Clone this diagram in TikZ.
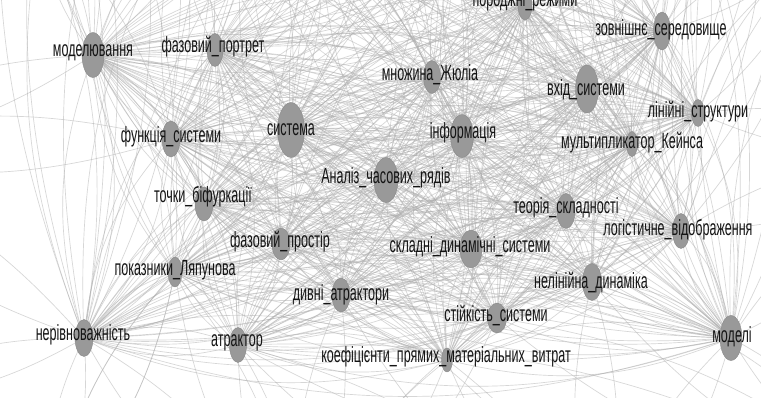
\documentclass[tikz,border=0pt]{standalone}
\usepackage{fontspec}
\newfontfamily\lbl[FakeStretch=0.57]{Liberation Sans}
\usetikzlibrary{shapes.geometric}
\pgfdeclarelayer{bg}
\pgfdeclarelayer{fg}
\pgfsetlayers{bg,main,fg}
\definecolor{nodefill}{RGB}{153,153,153}
\definecolor{nodeline}{RGB}{138,138,138}
\definecolor{edgecol}{RGB}{175,175,175}
\definecolor{txt}{RGB}{20,20,20}
\begin{document}
\begin{tikzpicture}[x=0.75pt,y=-0.75pt,
  vert/.style 2 args={ellipse,fill=nodefill,draw=nodeline,line width=0.3pt,inner sep=0pt,minimum width=#1*0.75pt,minimum height=#2*0.75pt},
  lab/.style={font=\lbl\fontsize{16.5}{18}\selectfont,text=txt,inner sep=0pt},
  edge/.style={draw=edgecol,line width=0.5pt,opacity=0.5}]
\useasboundingbox (0,0) rectangle (761,398);
\foreach \n/\x/\y/\w/\h/\lx/\ly/\t in {
 1/93/55/22/45/93/53/моделювання,
 2/215/50/16/33/213/47/фазовий\_портрет,
 3/171/139/18/36/171/137/функція\_системи,
 4/204/204/18/34/203/197/точки\_біфуркації,
 5/175/272/14/30/175/270/показники\_Ляпунова,
 6/84/338/18/37/83/335/нерівноважність,
 7/238/345/17/35/237/343/атрактор,
 8/281/244/18/32/280/242/фазовий\_простір,
 9/341/295/18/34/341/295/дивні\_атрактори,
 10/447/360/11/24/446/357/коефіцієнти\_прямих\_матеріальних\_витрат,
 11/497/318/19/30/496/316/стійкість\_системи,
 12/471/249/22/38/470/247/складні\_динамічні\_системи,
 13/592/282/19/37/591/283/нелінійна\_динаміка,
 14/566/211/18/35/566/208/теорія\_складності,
 15/681/231/17/35/678/230/логістичне\_відображення,
 16/731/338/22/45/732/337/моделі,
 17/662/31/17/38/661/30/зовнішнє\_середовище,
 18/587/89/23/48/586/90/вхід\_системи,
 19/698/113/13/27/698/112/лінійні\_структури,
 20/632/144/11/25/632/143/мультипликатор\_Кейнса,
 21/462/136/23/43/463/133/інформація,
 22/432/77/17/33/430/75/множина\_Жюліа,
 23/291/130/27/55/291/130/система,
 24/386/180/24/45/386/178/Аналіз\_часових\_рядів,
 25/525/5/14/30/525/1/породжні\_режими}{
  \node[vert={\w}{\h}] (n\n) at (\x,\y) {};
  \begin{pgfonlayer}{fg}
  \node[lab] (l\n) at (\lx,\ly) {\t};
  \end{pgfonlayer}
}
% off-picture ends of edges
\foreach \c/\x/\y in {1/20/-300,2/60/-250,3/130/-200,4/250/-150,5/380/-120,6/520/-150,
  7/650/-200,8/760/-300,9/950/150,10/900/500,11/600/560,12/300/560,13/50/520,14/-200/150,
  15/-150/400,16/180/-90,17/320/-70,18/450/-60,19/580/-80,20/700/-90,21/820/-60,22/40/-80,23/400/-250}{
  \coordinate (o\c) at (\x,\y);
}
\begin{pgfonlayer}{bg}
\fill[white] (0,0) rectangle (761,398);
\foreach \i in {1,...,24}{
  \pgfmathtruncatemacro\k{\i+1}
  \foreach \j in {\k,...,25}{
    \draw[edge] (n\i.center) to[bend left=18] (n\j.center);
    \draw[edge] (n\j.center) to[bend left=18] (n\i.center);
  }
}
% edges from upper nodes to nodes above the picture
\foreach \a in {1,2,3,17,18,19,20,21,22,23,25}{
  \foreach \b in {4,5,6,16,17,18,19,20,23}{
    \draw[edge] (n\a.center) to[bend left=12] (o\b);
    \draw[edge] (o\b) to[bend left=12] (n\a.center);
  }
}
\foreach \a in {4,8,12,14,15,24}{
  \foreach \b in {4,6,17,18,19}{
    \draw[edge] (n\a.center) to[bend left=12] (o\b);
  }
}
\foreach \a/\b in {1/1,1/2,1/3,1/22,1/14,6/1,6/2,6/3,6/22,6/14,6/13,6/12,6/15,6/16,6/23,
  16/7,16/8,16/9,16/10,16/11,16/20,16/21,16/19,15/8,15/9,15/21,13/21,13/8,17/7,17/8,17/21,19/8,19/9,19/21,
  5/12,5/13,5/2,7/11,7/12,7/10,9/11,9/12,10/11,10/12,11/10,11/12,13/10,13/11,5/13,12/5,20/7,3/22,3/14}{
  \draw[edge] (n\a.center) to[bend left=15] (o\b);
  \draw[edge] (o\b) to[bend left=15] (n\a.center);
}
\end{pgfonlayer}
\end{tikzpicture}
\end{document}
